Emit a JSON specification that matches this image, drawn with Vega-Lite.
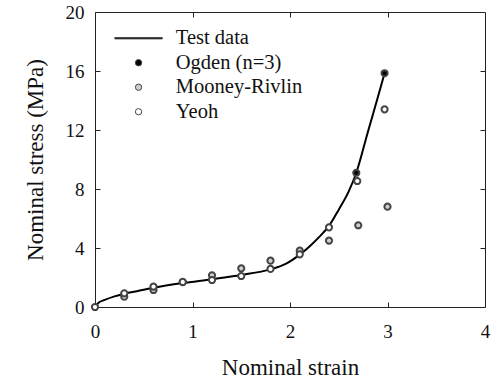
{
  "$schema": "https://vega.github.io/schema/vega-lite/v6.json",
  "autosize": "none",
  "width": 390,
  "height": 295,
  "padding": {"left": 95, "top": 12, "right": 11, "bottom": 77},
  "background": "white",
  "config": {
    "font": "Liberation Serif",
    "view": {"stroke": "#222", "strokeWidth": 1},
    "axis": {"grid": false, "domain": false, "ticks": true, "tickSize": 5, "tickColor": "#222", "tickWidth": 1, "tickOpacity": 1, "offset": -5, "zindex": 1, "labelFlush": false, "labelFont": "Liberation Serif", "labelFontSize": 19, "labelColor": "#111", "titleFont": "Liberation Serif", "titleFontWeight": "normal", "titleColor": "#111", "titleFontSize": 23}
  },
  "resolve": {"axis": {"x": "independent", "y": "independent"}},
  "datasets": {
    "curve": [
      {"strain": 0, "stress": 0},
      {"strain": 0.03, "stress": 0.25},
      {"strain": 0.1, "stress": 0.48},
      {"strain": 0.2, "stress": 0.72},
      {"strain": 0.3, "stress": 0.9},
      {"strain": 0.45, "stress": 1.1},
      {"strain": 0.6, "stress": 1.3},
      {"strain": 0.9, "stress": 1.62},
      {"strain": 1.2, "stress": 1.88},
      {"strain": 1.5, "stress": 2.17},
      {"strain": 1.8, "stress": 2.55},
      {"strain": 1.95, "stress": 2.9},
      {"strain": 2.1, "stress": 3.55},
      {"strain": 2.2, "stress": 4.1},
      {"strain": 2.3, "stress": 4.75},
      {"strain": 2.4, "stress": 5.5},
      {"strain": 2.5, "stress": 6.6},
      {"strain": 2.6, "stress": 7.8},
      {"strain": 2.68, "stress": 9.1},
      {"strain": 2.8, "stress": 11.9},
      {"strain": 2.9, "stress": 14.2},
      {"strain": 2.97, "stress": 15.85}
    ],
    "models": [
      {"model": "Mooney-Rivlin", "strain": 0.3, "stress": 0.7},
      {"model": "Mooney-Rivlin", "strain": 0.6, "stress": 1.15},
      {"model": "Mooney-Rivlin", "strain": 0.9, "stress": 1.68},
      {"model": "Mooney-Rivlin", "strain": 1.2, "stress": 2.15},
      {"model": "Mooney-Rivlin", "strain": 1.5, "stress": 2.62},
      {"model": "Mooney-Rivlin", "strain": 1.8, "stress": 3.14},
      {"model": "Mooney-Rivlin", "strain": 2.1, "stress": 3.82},
      {"model": "Mooney-Rivlin", "strain": 2.4, "stress": 4.5},
      {"model": "Mooney-Rivlin", "strain": 2.7, "stress": 5.54},
      {"model": "Mooney-Rivlin", "strain": 3.0, "stress": 6.8},
      {"model": "Yeoh", "strain": 0, "stress": 0},
      {"model": "Yeoh", "strain": 0.3, "stress": 0.93},
      {"model": "Yeoh", "strain": 0.6, "stress": 1.38},
      {"model": "Yeoh", "strain": 0.9, "stress": 1.7},
      {"model": "Yeoh", "strain": 1.2, "stress": 1.83},
      {"model": "Yeoh", "strain": 1.5, "stress": 2.1},
      {"model": "Yeoh", "strain": 1.8, "stress": 2.58},
      {"model": "Yeoh", "strain": 2.1, "stress": 3.57},
      {"model": "Yeoh", "strain": 2.4, "stress": 5.4},
      {"model": "Yeoh", "strain": 2.69, "stress": 8.54},
      {"model": "Yeoh", "strain": 2.97, "stress": 13.4},
      {"model": "Ogden (n=3)", "strain": 2.68, "stress": 9.1},
      {"model": "Ogden (n=3)", "strain": 2.97, "stress": 15.85}
    ]
  },
  "layer": [
    {
      "data": {"name": "curve"},
      "mark": {"type": "line", "color": "black", "strokeWidth": 2, "interpolate": "monotone"},
      "encoding": {
        "x": {"field": "strain", "type": "quantitative", "scale": {"domain": [0, 4], "nice": false}, "axis": {"orient": "bottom", "title": "Nominal strain", "values": [0, 1, 2, 3, 4], "labelPadding": 15, "titlePadding": 15}},
        "y": {"field": "stress", "type": "quantitative", "scale": {"domain": [0, 20], "nice": false}, "axis": {"orient": "left", "title": "Nominal stress (MPa)", "values": [0, 4, 8, 12, 16, 20], "labelPadding": 11, "titlePadding": 18}}
      }
    },
    {
      "data": {"name": "models"},
      "mark": {"type": "point", "filled": true, "stroke": "#444", "opacity": 1},
      "encoding": {
        "x": {"field": "strain", "type": "quantitative", "axis": {"orient": "top", "labels": false, "title": null, "values": [1, 2, 3]}},
        "y": {"field": "stress", "type": "quantitative", "axis": {"orient": "right", "labels": false, "title": null, "values": [4, 8, 12, 16]}},
        "shape": {"field": "model", "type": "nominal", "scale": {"domain": ["Test data", "Ogden (n=3)", "Mooney-Rivlin", "Yeoh"], "range": ["M-7.5,-0.2H7.5V0.2H-7.5Z", "circle", "circle", "circle"]},
          "legend": {"title": null, "orient": "none", "legendX": 33.3, "legendY": 16, "labelFontSize": 20.5, "labelFont": "Liberation Serif", "labelColor": "#111", "labelOffset": 27, "rowPadding": 3.5, "symbolSize": 40, "symbolStrokeWidth": 1, "padding": 0,
            "encode": {"symbols": {"update": {"stroke": {"value": "black"}}}}}},
        "fill": {"field": "model", "type": "nominal", "scale": {"domain": ["Test data", "Ogden (n=3)", "Mooney-Rivlin", "Yeoh"], "range": ["black", "black", "#cfcfcf", "white"]}},
        "size": {"value": 38}
      }
    }
  ]
}
